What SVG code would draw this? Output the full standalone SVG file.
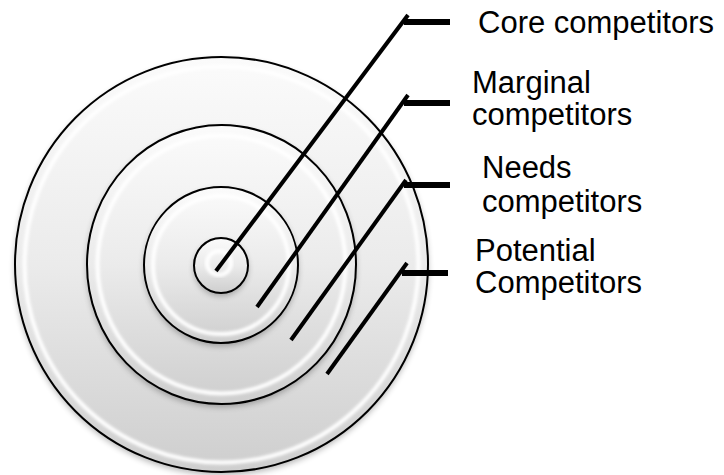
<svg xmlns="http://www.w3.org/2000/svg" width="724" height="475" viewBox="0 0 724 475">
<style>
.disk{fill:url(#g);stroke:none;filter:url(#shadow)}
.hl{fill:none;stroke:#ffffff;stroke-width:4;filter:url(#blur)}
.edge{fill:none;stroke:#000000;stroke-width:2}
.diag{stroke:#000000;stroke-width:4;fill:none}
.tick{stroke:#000000;stroke-width:6;fill:none}
.lbl{font-family:"Liberation Sans",Arial,sans-serif;font-size:31px;fill:#000000}
</style>
<defs>
<linearGradient id="g" x1="0" y1="0" x2="0" y2="1">
<stop offset="0" stop-color="#fbfbfb"/>
<stop offset="0.5" stop-color="#ebebeb"/>
<stop offset="1" stop-color="#cecece"/>
</linearGradient>
<filter id="blur" x="-10%" y="-10%" width="120%" height="120%"><feGaussianBlur stdDeviation="1.8"/></filter>
<filter id="shadow" x="-20%" y="-20%" width="140%" height="140%">
<feGaussianBlur in="SourceAlpha" stdDeviation="3"/>
<feOffset dy="3" result="o"/>
<feComponentTransfer><feFuncA type="linear" slope="0.3"/></feComponentTransfer>
<feMerge><feMergeNode/><feMergeNode in="SourceGraphic"/></feMerge>
</filter>
</defs>
<rect width="724" height="475" fill="#ffffff"/>
<g id="ring-potential">
<ellipse class="disk" cx="221.5" cy="264.5" rx="206.5" ry="207.5"/>
<ellipse class="hl" cx="221.5" cy="264.5" rx="197" ry="198"/>
<ellipse class="edge" cx="221.5" cy="264.5" rx="206.5" ry="207.5"/>
</g>
<g id="ring-needs">
<ellipse class="disk" cx="221.5" cy="264.5" rx="134.5" ry="139.5"/>
<ellipse class="hl" cx="221.5" cy="264.5" rx="124" ry="129"/>
<ellipse class="edge" cx="221.5" cy="264.5" rx="134.5" ry="139.5"/>
</g>
<g id="ring-marginal">
<ellipse class="disk" cx="221" cy="265" rx="77" ry="78"/>
<ellipse class="hl" cx="221" cy="265" rx="68" ry="69"/>
<ellipse class="edge" cx="221" cy="265" rx="77" ry="78"/>
</g>
<g id="ring-core">
<ellipse class="disk" cx="221" cy="265.5" rx="27" ry="27.5"/>
<ellipse class="hl" cx="219" cy="263" rx="12" ry="12"/>
<ellipse class="edge" cx="221" cy="265.5" rx="27" ry="27.5"/>
</g>
<g id="connectors">
<line class="diag" x1="216" y1="271" x2="408" y2="15"/>
<line class="tick" x1="404" y1="22" x2="450" y2="22"/>
<line class="diag" x1="257" y1="307" x2="408" y2="95"/>
<line class="tick" x1="404" y1="103" x2="450" y2="103"/>
<line class="diag" x1="291" y1="340" x2="406" y2="180"/>
<line class="tick" x1="404" y1="185" x2="450" y2="185"/>
<line class="diag" x1="327" y1="374" x2="407" y2="263"/>
<line class="tick" x1="402" y1="273" x2="448" y2="273"/>
</g>
<g id="label-core"><text class="lbl" x="478" y="33">Core competitors</text></g>
<g id="label-marginal"><text class="lbl" x="472" y="93">Marginal</text><text class="lbl" x="472" y="125">competitors</text></g>
<g id="label-needs"><text class="lbl" x="482" y="178">Needs</text><text class="lbl" x="482" y="212">competitors</text></g>
<g id="label-potential"><text class="lbl" x="475" y="261">Potential</text><text class="lbl" x="475" y="293">Competitors</text></g>
</svg>
